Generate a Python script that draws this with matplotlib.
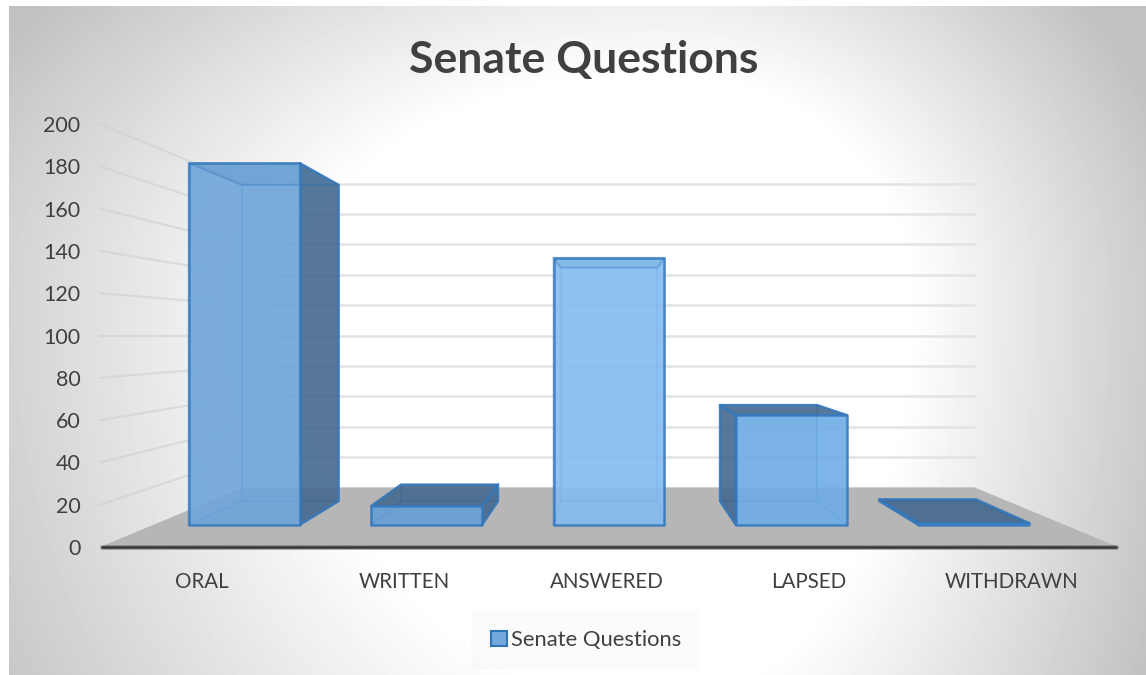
import numpy as np
import matplotlib
matplotlib.use('Agg')
import matplotlib.pyplot as plt
from matplotlib.patches import Polygon, Patch

categories = ['ORAL', 'WRITTEN', 'ANSWERED', 'LAPSED', 'WITHDRAWN']
values = [191, 10, 141, 58, 1]
y_ticks = [0, 20, 40, 60, 80, 100, 120, 140, 160, 180, 200]
series_name = 'Senate Questions'

W, H = 1146, 675
plt.rcParams['font.family'] = ['Lato', 'DejaVu Sans']

# perspective: a point at depth f shrinks toward the middle of the box
vx, vy = 2.0, 100.0
f_wall = 0.718
f_front = 0.896
f_back = 0.783
half_w = 0.304


def proj(x, y, f):
    return (vx + (x - vx) * f, vy + (y - vy) * f)


fig = plt.figure(figsize=(W / 100, H / 100), dpi=100, facecolor='white')

# background gradient, falls off faster to the right and the top
bg = fig.add_axes([9 / W, 0, (W - 9) / W, (H - 6) / H], zorder=0)
xx, yy = np.meshgrid(np.arange(9, W), np.arange(6, H))
dx = np.where(xx > 660, (xx - 660) / 500.0, (xx - 660) / 720.0)
dy = np.where(yy > 300, (yy - 300) / 800.0, (yy - 300) / 450.0)
r = np.sqrt(dx ** 2 + dy ** 2)
shade = 255 - 62 * np.clip((r - 0.5) / 0.58, 0, 1)
bg.imshow(shade, cmap='gray', vmin=0, vmax=255, aspect='auto', interpolation='bilinear')
bg.axis('off')

ax = fig.add_axes([100 / W, 1 - 547 / H, 1018 / W, 423 / H], zorder=1)
ax.patch.set_alpha(0)
ax.set_xlim(-0.5, 4.5)
ax.set_ylim(0, 200)
for s in ax.spines.values():
    s.set_visible(False)
ax.set_xticks([i * 0.994 for i in range(len(categories))])
ax.set_xticklabels(categories)
ax.set_yticks(y_ticks)
ax.tick_params(axis='x', length=0, pad=18, labelsize=14.8, labelcolor='#404040')
ax.tick_params(axis='y', length=0, pad=14, labelsize=15.5, labelcolor='#404040')

# gridlines on the back and side walls
for v in y_ticks[1:]:
    a = proj(-0.5, v, 1)
    b = proj(-0.5, v, f_wall)
    c = proj(4.5, v, f_wall)
    ax.plot([a[0], b[0]], [a[1], b[1]], color='#d0d0d0', lw=1.6, alpha=0.6, zorder=1, clip_on=False)
    ax.plot([b[0], c[0]], [b[1], c[1]], color='#e3e3e3', lw=1.8, zorder=1, clip_on=False)

# floor
floor = [proj(-0.5, 0, 1), proj(4.5, 0, 1), proj(4.5, 0, f_wall), proj(-0.5, 0, f_wall)]
ax.add_patch(Polygon(floor, closed=True, fc='#b6b6b6', ec='none', zorder=2, clip_on=False))
ax.plot([-0.49, 4.49], [0, 0], color='#6a6a6a', lw=3.4, alpha=0.6, solid_capstyle='round', zorder=3, clip_on=False)
ax.plot([-0.49, 4.49], [0, 0], color='#383838', lw=1.8, solid_capstyle='round', zorder=3, clip_on=False)

front_colors = ['#6ea5d9', '#669fd6', '#86bdef', '#70ade6', '#5f9bd4']
edge = '#3578bd'
dark = '#44688d'


def face(pts, fc, alpha, ec_alpha=1.0, lw=1.5, z=4):
    ax.add_patch(Polygon(pts, closed=True, fc=matplotlib.colors.to_rgba(fc, alpha),
                         ec=matplotlib.colors.to_rgba(edge, ec_alpha), lw=lw,
                         joinstyle='round', zorder=z, clip_on=False))


for i, v in enumerate(values):
    x0, x1 = i - half_w, i + half_w
    front = [proj(x0, 0, f_front), proj(x1, 0, f_front), proj(x1, v, f_front), proj(x0, v, f_front)]
    back = [proj(x0, 0, f_back), proj(x1, 0, f_back), proj(x1, v, f_back), proj(x0, v, f_back)]
    left = [front[0], back[0], back[3], front[3]]
    right = [front[1], back[1], back[2], front[2]]
    top = [front[3], front[2], back[2], back[3]]
    bottom = [front[0], front[1], back[1], back[0]]

    # inner faces only show through the front
    face(back, '#5b9bd5', 0.25, 0.4, 1.4, 4)
    face(bottom, '#5b9bd5', 0.2, 0.4, 1.4, 4)
    # outer faces
    if x1 < vx:
        face(right, dark, 0.88, 0.85, 1.7, 5)
    else:
        face(right, '#5b9bd5', 0.15, 0.4, 1.4, 4)
    if x0 > vx:
        face(left, dark, 0.88, 0.85, 1.7, 5)
    else:
        face(left, '#5b9bd5', 0.15, 0.4, 1.4, 4)
    if v < vy:
        face(top, dark, 0.88, 0.85, 1.7, 5)
    else:
        face(top, '#2e75b6', 0.15, 0.3, 1.4, 7)
    face(front, front_colors[i], 0.88, 0.85, 1.8, 6)

fig.text(584 / W, 1 - 60 / H, series_name, ha='center', va='center', fontsize=32,
         fontweight='bold', color='#404040')

handle = Patch(fc='#72a8dc', ec='#2e75b6', lw=1.5, label=series_name)
fig.legend(handles=[handle], loc='center', bbox_to_anchor=(586 / W, 1 - 640 / H),
           frameon=True, facecolor='#f5f5f5', edgecolor='none', framealpha=0.4,
           fontsize=15.8, labelcolor='#404040', handlelength=0.72, handleheight=0.72,
           handletextpad=0.2, borderpad=0.9, borderaxespad=0, fancybox=False)

fig.savefig('out.png', dpi=100)
